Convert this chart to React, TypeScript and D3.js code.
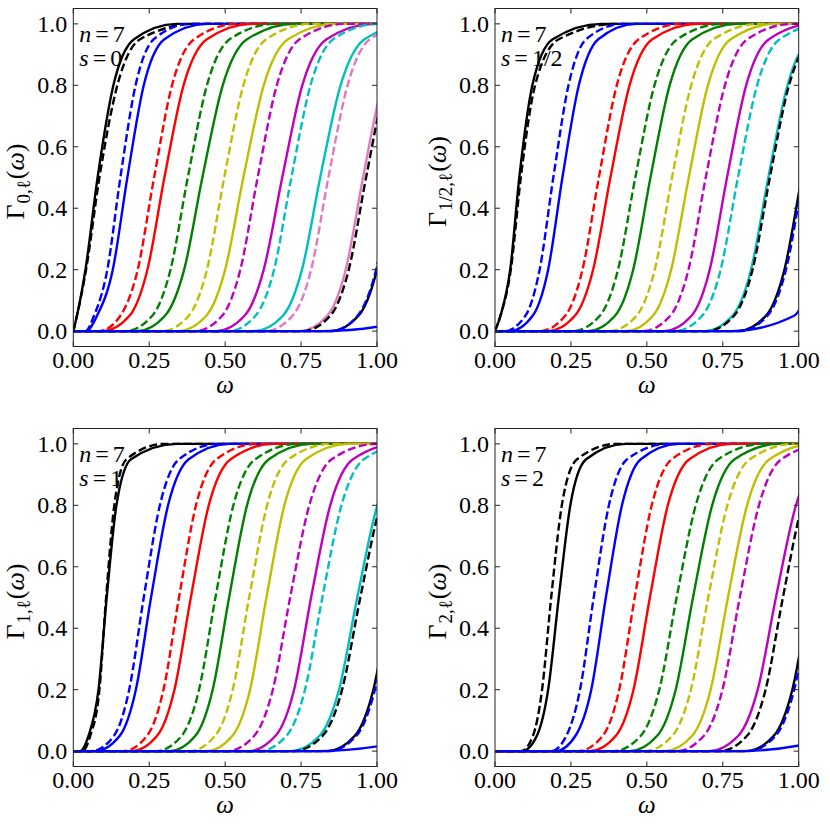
import * as d3 from "d3";

const gammaLevels = [0, 0.05, 0.2, 0.5, 0.8, 0.95, 1];
const omegaTicks = [0, 0.25, 0.5, 0.75, 1];
const gammaTicks = [0, 0.2, 0.4, 0.6, 0.8, 1];

const lineColors: Record<string, string> = {
  k: "#000000",
  b: "#0000ff",
  r: "#ff0000",
  g: "#008000",
  y: "#bfbf00",
  m: "#bf00bf",
  c: "#00bfbf",
  p: "#e377c2",
};

// s = 0
const s0Colors = ["k", "b", "r", "g", "y", "m", "c", "p", "k", "b"];
const s0Solid = [
  [0, 0.012, 0.04, 0.08, 0.132, 0.2, 0.34],
  [0.042, 0.078, 0.13, 0.178, 0.232, 0.3, 0.44],
  [0.096, 0.185, 0.244, 0.3, 0.363, 0.44, 0.59],
  [0.21, 0.302, 0.365, 0.425, 0.492, 0.572, 0.73],
  [0.345, 0.438, 0.5, 0.56, 0.627, 0.707, 0.865],
  [0.47, 0.564, 0.627, 0.688, 0.754, 0.834, 0.99],
  [0.595, 0.69, 0.753, 0.813, 0.88, 0.959, 1.115],
  [0.745, 0.836, 0.897, 0.954, 1.017, 1.091, 1.24],
  [0.848, 0.939, 1.0, 1.057, 1.12, 1.194, 1.34],
  [0.82, 1.16, 1.22, 1.28, 1.34, 1.42, 1.56],
];
const s0Dashed = [
  [0, 0.012, 0.042, 0.086, 0.145, 0.22, 0.4],
  [0.04, 0.068, 0.112, 0.155, 0.205, 0.265, 0.385],
  [0.085, 0.155, 0.212, 0.266, 0.325, 0.398, 0.54],
  [0.171, 0.26, 0.32, 0.377, 0.44, 0.515, 0.665],
  [0.291, 0.38, 0.44, 0.497, 0.56, 0.635, 0.785],
  [0.401, 0.49, 0.55, 0.607, 0.67, 0.745, 0.895],
  [0.511, 0.6, 0.661, 0.718, 0.781, 0.856, 1.005],
  [0.631, 0.722, 0.783, 0.84, 0.903, 0.977, 1.125],
  [0.755, 0.846, 0.907, 0.964, 1.027, 1.101, 1.25],
  [0.85, 0.936, 0.997, 1.054, 1.117, 1.19, 1.34],
];

// s = 1/2
const s12Colors = ["k", "b", "r", "g", "y", "m", "c", "k", "b"];
const s12Solid = [
  [0, 0.018, 0.05, 0.08, 0.123, 0.19, 0.35],
  [0.049, 0.124, 0.175, 0.222, 0.276, 0.34, 0.465],
  [0.174, 0.263, 0.323, 0.38, 0.443, 0.518, 0.668],
  [0.306, 0.395, 0.455, 0.512, 0.575, 0.65, 0.8],
  [0.431, 0.52, 0.58, 0.638, 0.701, 0.776, 0.925],
  [0.556, 0.647, 0.707, 0.764, 0.827, 0.902, 1.05],
  [0.691, 0.782, 0.843, 0.9, 0.963, 1.037, 1.185],
  [0.8, 0.892, 0.953, 1.01, 1.073, 1.147, 1.295],
  [0.78, 0.985, 1.045, 1.1, 1.16, 1.23, 1.38],
];
const s12Dashed = [
  [0, 0.018, 0.052, 0.085, 0.132, 0.21, 0.4],
  [0.03, 0.1, 0.147, 0.192, 0.242, 0.3, 0.42],
  [0.147, 0.231, 0.288, 0.342, 0.401, 0.473, 0.615],
  [0.256, 0.345, 0.405, 0.462, 0.525, 0.6, 0.75],
  [0.376, 0.466, 0.526, 0.583, 0.646, 0.72, 0.87],
  [0.486, 0.577, 0.637, 0.694, 0.757, 0.831, 0.98],
  [0.591, 0.682, 0.743, 0.8, 0.863, 0.937, 1.085],
  [0.696, 0.787, 0.848, 0.905, 0.968, 1.042, 1.19],
  [0.805, 0.897, 0.958, 1.015, 1.078, 1.152, 1.3],
];

// s = 1
const s1Colors = ["k", "b", "r", "g", "y", "m", "c", "k", "b"];
const s1Solid = [
  [0.022, 0.05, 0.083, 0.11, 0.142, 0.19, 0.34],
  [0.073, 0.153, 0.206, 0.256, 0.312, 0.38, 0.515],
  [0.192, 0.276, 0.333, 0.387, 0.446, 0.518, 0.66],
  [0.317, 0.402, 0.459, 0.513, 0.572, 0.644, 0.785],
  [0.439, 0.524, 0.582, 0.636, 0.695, 0.766, 0.907],
  [0.576, 0.666, 0.727, 0.783, 0.846, 0.921, 1.07],
  [0.715, 0.811, 0.875, 0.935, 1.001, 1.079, 1.235],
  [0.836, 0.927, 0.988, 1.045, 1.108, 1.182, 1.33],
  [0.8, 1.16, 1.22, 1.28, 1.34, 1.42, 1.56],
];
const s1Dashed = [
  [0.03, 0.056, 0.086, 0.108, 0.135, 0.175, 0.3],
  [0.059, 0.134, 0.184, 0.232, 0.285, 0.348, 0.475],
  [0.163, 0.243, 0.297, 0.348, 0.404, 0.471, 0.605],
  [0.272, 0.357, 0.414, 0.468, 0.527, 0.599, 0.74],
  [0.382, 0.467, 0.525, 0.579, 0.638, 0.709, 0.85],
  [0.506, 0.596, 0.657, 0.714, 0.777, 0.851, 1.0],
  [0.611, 0.702, 0.763, 0.82, 0.883, 0.957, 1.105],
  [0.725, 0.821, 0.885, 0.945, 1.011, 1.089, 1.245],
  [0.84, 0.932, 0.993, 1.05, 1.113, 1.187, 1.335],
];

// s = 2
const s2Colors = ["k", "b", "r", "g", "y", "m", "k", "b"];
const s2Solid = [
  [0.09, 0.138, 0.175, 0.21, 0.248, 0.3, 0.43],
  [0.2, 0.265, 0.317, 0.365, 0.418, 0.48, 0.605],
  [0.312, 0.398, 0.456, 0.51, 0.569, 0.64, 0.78],
  [0.443, 0.534, 0.595, 0.652, 0.715, 0.789, 0.937],
  [0.558, 0.649, 0.71, 0.767, 0.83, 0.904, 1.052],
  [0.705, 0.801, 0.865, 0.925, 0.991, 1.069, 1.225],
  [0.827, 0.918, 0.979, 1.036, 1.099, 1.173, 1.321],
  [0.8, 1.13, 1.19, 1.25, 1.31, 1.39, 1.54],
];
const s2Dashed = [
  [0.085, 0.125, 0.155, 0.185, 0.22, 0.27, 0.4],
  [0.185, 0.235, 0.28, 0.325, 0.375, 0.435, 0.57],
  [0.273, 0.355, 0.409, 0.46, 0.516, 0.582, 0.715],
  [0.389, 0.48, 0.541, 0.598, 0.661, 0.735, 0.883],
  [0.493, 0.584, 0.645, 0.702, 0.765, 0.839, 0.987],
  [0.597, 0.688, 0.749, 0.806, 0.869, 0.943, 1.091],
  [0.739, 0.83, 0.891, 0.948, 1.011, 1.085, 1.233],
  [0.833, 0.924, 0.985, 1.042, 1.105, 1.179, 1.327],
];

const plotW = 303.7;
const plotH = 338;
const font = "'Liberation Serif', 'Times New Roman', serif";

type PanelProps = {
  id: string;
  spin: string;
  colors: string[];
  solid: number[][];
  dashed: number[][];
  x0: number;
  y0: number;
};

function toPoints(row: number[]): [number, number][] {
  const pts: [number, number][] = row.map((w, i) => [w, gammaLevels[i]]);
  if (row[0] > 0) pts.unshift([0, 0]);
  pts.push([Math.max(1.05, row[row.length - 1] + 0.05), 1]);
  return pts;
}

function Panel({ id, spin, colors, solid, dashed, x0, y0 }: PanelProps) {
  const x = d3.scaleLinear().domain([0, 1]).range([x0, x0 + plotW]);
  const y = d3.scaleLinear().domain([-0.05, 1.05]).range([y0 + plotH, y0]);
  const line = d3
    .line<[number, number]>()
    .x((d) => x(d[0]))
    .y((d) => y(d[1]))
    .curve(d3.curveMonotoneX);

  const tick = 5;

  return (
    <g>
      <defs>
        <clipPath id={id}>
          <rect x={x0} y={y0} width={plotW} height={plotH} />
        </clipPath>
      </defs>
      <g clipPath={`url(#${id})`} fill="none" strokeWidth={2.4}>
        {colors.map((c, i) => (
          <g key={i}>
            <path
              d={line(toPoints(dashed[i])) || ""}
              stroke={lineColors[c]}
              strokeDasharray="8 3.5"
            />
            <path d={line(toPoints(solid[i])) || ""} stroke={lineColors[c]} />
          </g>
        ))}
      </g>
      <rect x={x0} y={y0} width={plotW} height={plotH} fill="none" stroke="#222" strokeWidth={1} />
      {omegaTicks.map((t) => (
        <g key={"x" + t}>
          <line x1={x(t)} x2={x(t)} y1={y0 + plotH} y2={y0 + plotH - tick} stroke="#222" />
          <line x1={x(t)} x2={x(t)} y1={y0} y2={y0 + tick} stroke="#222" />
          <text x={x(t)} y={y0 + plotH + 21.5} textAnchor="middle" fontSize={24} fontFamily={font}>
            {d3.format(".2f")(t)}
          </text>
        </g>
      ))}
      {gammaTicks.map((t) => (
        <g key={"y" + t}>
          <line x1={x0} x2={x0 + tick} y1={y(t)} y2={y(t)} stroke="#222" />
          <line x1={x0 + plotW} x2={x0 + plotW - tick} y1={y(t)} y2={y(t)} stroke="#222" />
          <text x={x0 - 6} y={y(t)} dy="0.34em" textAnchor="end" fontSize={24} fontFamily={font}>
            {d3.format(".1f")(t)}
          </text>
        </g>
      ))}
      <text
        x={x0 + plotW / 2}
        y={y0 + plotH + 46.5}
        textAnchor="middle"
        fontSize={25}
        fontStyle="italic"
        fontFamily={font}
      >
        ω
      </text>
      <text
        transform={`translate(${x0 - 49},${y0 + plotH / 2 + 4}) rotate(-90)`}
        textAnchor="middle"
        fontSize={26}
        fontFamily={font}
      >
        <tspan>Γ</tspan>
        <tspan fontSize={19} dy={6} dx={1}>
          {spin},ℓ
        </tspan>
        <tspan dy={-6} dx={1}>
          (
        </tspan>
        <tspan fontStyle="italic">ω</tspan>
        <tspan>)</tspan>
      </text>
      <text x={x0 + 6} y={y0 + 33.5} fontSize={24} fontFamily={font}>
        <tspan fontStyle="italic">n</tspan>
        <tspan dx={4}>=</tspan>
        <tspan dx={4}>7</tspan>
      </text>
      <text x={x0 + 6} y={y0 + 57} fontSize={24} fontFamily={font}>
        <tspan fontStyle="italic">s</tspan>
        <tspan dx={4}>=</tspan>
        <tspan dx={4}>{spin}</tspan>
      </text>
    </g>
  );
}

export default function App() {
  return (
    <svg
      width={830}
      height={830}
      style={{ position: "absolute", left: 0, top: 0, background: "#fff" }}
    >
      <Panel id="c0" spin="0" colors={s0Colors} solid={s0Solid} dashed={s0Dashed} x0={73.3} y0={8.5} />
      <Panel id="c1" spin="1/2" colors={s12Colors} solid={s12Solid} dashed={s12Dashed} x0={495} y0={8.5} />
      <Panel id="c2" spin="1" colors={s1Colors} solid={s1Solid} dashed={s1Dashed} x0={73.3} y0={428.5} />
      <Panel id="c3" spin="2" colors={s2Colors} solid={s2Solid} dashed={s2Dashed} x0={495} y0={428.5} />
    </svg>
  );
}
